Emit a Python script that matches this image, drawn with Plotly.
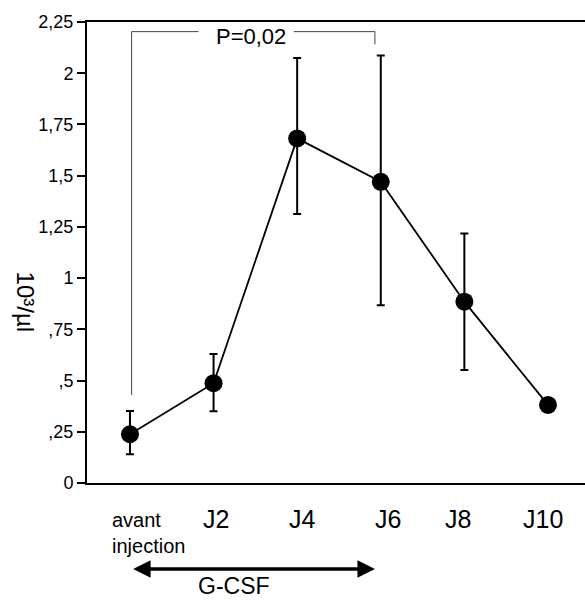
import plotly.graph_objects as go

# ---- data ----
categories = ["avant<br>injection", "J2", "J4", "J6", "J8", "J10"]
means = [0.238, 0.487, 1.682, 1.470, 0.885, 0.381]
upper = [0.351, 0.630, 2.074, 2.087, 1.218, 0.381]
lower = [0.140, 0.350, 1.313, 0.867, 0.551, 0.381]
y_tickvals = [0, 0.25, 0.5, 0.75, 1, 1.25, 1.5, 1.75, 2, 2.25]
y_ticktext = ["0", ",25", ",5", ",75", "1", "1,25", "1,5", "1,75", "2", "2,25"]
p_label = "P=0,02"
treatment_label = "G-CSF"
y_title = "10³/µl"

xpos = list(range(len(categories)))
err_plus = [u - m for u, m in zip(upper, means)]
err_minus = [m - l for m, l in zip(means, lower)]

FONT = "Liberation Sans, Arial, sans-serif"

fig = go.Figure()
fig.add_trace(go.Scatter(
    x=xpos, y=means, mode="lines+markers",
    line=dict(color="black", width=1.8),
    marker=dict(color="black", size=18),
    error_y=dict(type="data", symmetric=False, array=err_plus, arrayminus=err_minus,
                 color="black", thickness=2, width=4),
    cliponaxis=False, showlegend=False,
))

# significance bracket between first category and J6
br_left, br_right = 0.02, 2.93
br_top, br_right_bottom, br_left_bottom = 2.203, 2.141, 0.429
txt_x, txt_y = 1.447, 2.18
gap_l, gap_r = 0.82, 1.96
gray = "#444444"
fig.add_shape(type="path", xref="x", yref="y",
              path=f"M {br_left},{br_left_bottom} L {br_left},{br_top} L {gap_l},{br_top}",
              line=dict(color=gray, width=1))
fig.add_shape(type="path", xref="x", yref="y",
              path=f"M {gap_r},{br_top} L {br_right},{br_top} L {br_right},{br_right_bottom}",
              line=dict(color=gray, width=1))
fig.add_annotation(x=txt_x, y=txt_y, xref="x", yref="y", text=p_label, showarrow=False,
                   font=dict(family=FONT, size=22, color="black"))

# x category labels as annotations
shifts = [0, 2, 5, 7, -6, -5]
for i, lab in enumerate(categories):
    if i == 0:
        fig.add_annotation(x=xpos[i], y=0, xref="x", yref="y", text=lab, showarrow=False,
                           xanchor="left", yanchor="middle", align="left",
                           xshift=-20, yshift=-50,
                           font=dict(family=FONT, size=20, color="black"))
    else:
        fig.add_annotation(x=xpos[i], y=0, xref="x", yref="y", text=lab, showarrow=False,
                           xanchor="center", yanchor="middle", xshift=shifts[i], yshift=-36,
                           font=dict(family=FONT, size=25, color="black"))

# G-CSF double arrow (below the plot, paper coords)
arr_y = -0.1866
fig.add_annotation(x=2.93, y=arr_y, ax=0.02, ay=0, xref="x", yref="paper", axref="x", ayref="pixel",
                   text="", showarrow=True, arrowhead=2, arrowside="end+start",
                   arrowwidth=3.5, arrowsize=1, arrowcolor="black")
fig.add_annotation(x=1.244, y=-0.256, xref="x", yref="paper", text=treatment_label, showarrow=False,
                   font=dict(family=FONT, size=23, color="black"))

# rotated y title
fig.add_annotation(x=0, y=0.883, xref="paper", yref="y", xshift=-77, text=y_title,
                   showarrow=False, textangle=90,
                   font=dict(family=FONT, size=24, color="black"))

fig.update_xaxes(range=[-0.514, 5.443], showline=True, linecolor="black", linewidth=2,
                 mirror=True, showticklabels=False, ticks="", showgrid=False, zeroline=False)
fig.update_yaxes(range=[0, 2.25], tickvals=y_tickvals, ticktext=y_ticktext,
                 showline=True, linecolor="black", linewidth=2, ticks="outside",
                 ticklen=8, tickwidth=1.5, tickcolor="black", showgrid=False, zeroline=False,
                 tickfont=dict(family=FONT, size=18, color="black"))
fig.update_layout(width=585, height=600, margin=dict(l=87, r=0, t=22, b=117),
                  plot_bgcolor="white", paper_bgcolor="white",
                  font=dict(family=FONT, color="black"))
fig.write_html("out.html", config={"displayModeBar": False},
               post_script="document.body.style.margin='0';")
